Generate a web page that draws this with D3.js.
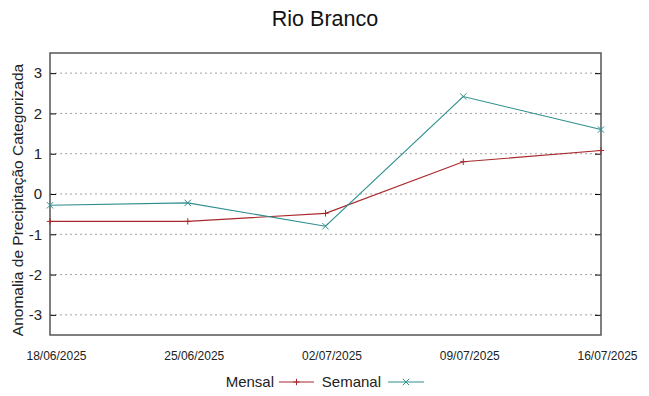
<!DOCTYPE html>
<html>
<head>
<meta charset="utf-8">
<script src="https://cdn.jsdelivr.net/npm/d3@7"></script>
<style>
  body { margin: 0; background: #fff; }
  text { font-family: "Liberation Sans", Arial, sans-serif; }
</style>
</head>
<body>
<script>
const dates = ["18/06/2025", "25/06/2025", "02/07/2025", "09/07/2025", "16/07/2025"];
const mensal = [-0.68, -0.68, -0.48, 0.80, 1.08];
const semanal = [-0.28, -0.22, -0.80, 2.42, 1.60];
const yTicks = [-3, -2, -1, 0, 1, 2, 3];

const parse = d3.timeParse("%d/%m/%Y");
const fmt = d3.timeFormat("%d/%m/%Y");

let svg = d3.select("body").append("svg")
    .attr("width", 649)
    .attr("height", 396);

let plotLeft = 50, plotRight = 601, plotTop = 53, plotBottom = 335;

let xScale = d3.scaleTime()
    .domain([parse(dates[0]), parse(dates[dates.length - 1])])
    .range([plotLeft, plotRight]);
let yScale = d3.scaleLinear().domain([-3.5, 3.5]).range([plotBottom, plotTop]);

// grid
svg.append("g").selectAll("line")
    .data(yTicks)
    .enter()
    .append("line")
    .attr("x1", plotLeft).attr("x2", plotRight)
    .attr("y1", d => yScale(d)).attr("y2", d => yScale(d))
    .attr("stroke", "#a0a0a0")
    .attr("stroke-width", 1)
    .attr("stroke-dasharray", "2,3");

// axes
let yAxis = d3.axisLeft(yScale).tickValues(yTicks).tickSize(-6).tickPadding(8).tickFormat(d => d);
svg.append("g")
    .attr("transform", `translate(${plotLeft},0)`)
    .call(yAxis)
    .call(g => g.select(".domain").remove())
    .call(g => g.selectAll("text").style("font-size", "15px").attr("fill", "#222"));

let yAxisR = d3.axisRight(yScale).tickValues(yTicks).tickSize(-6).tickFormat("");
svg.append("g")
    .attr("transform", `translate(${plotRight},0)`)
    .call(yAxisR)
    .call(g => g.select(".domain").remove());

let xAxis = d3.axisBottom(xScale)
    .tickValues(dates.map(parse))
    .tickSize(0).tickPadding(16)
    .tickFormat(fmt);
svg.append("g")
    .attr("transform", `translate(0,${plotBottom})`)
    .call(xAxis)
    .call(g => g.select(".domain").remove())
    .call(g => g.selectAll("text")
        .attr("dx", 6)
        .style("font-size", "12px").attr("fill", "#222"));

// frame
svg.append("rect")
    .attr("x", plotLeft).attr("y", plotTop)
    .attr("width", plotRight - plotLeft).attr("height", plotBottom - plotTop)
    .attr("fill", "none")
    .attr("stroke", "#555")
    .attr("stroke-width", 1.5);

let series = [
    { name: "Mensal", values: mensal, color: "#a8282c", marker: "plus" },
    { name: "Semanal", values: semanal, color: "#2e8e8e", marker: "cross" }
];

let line = d3.line()
    .x((d, i) => xScale(parse(dates[i])))
    .y(d => yScale(d));

function drawMarker(g, type, x, y, color) {
    let s = 3.2;
    if (type === "plus") {
        g.append("path")
            .attr("d", `M${x - s},${y}H${x + s}M${x},${y - s}V${y + s}`)
            .attr("stroke", color).attr("stroke-width", 1).attr("fill", "none");
    } else {
        g.append("path")
            .attr("d", `M${x - s},${y - s}L${x + s},${y + s}M${x - s},${y + s}L${x + s},${y - s}`)
            .attr("stroke", color).attr("stroke-width", 1).attr("fill", "none");
    }
}

series.forEach(s => {
    svg.append("path")
        .datum(s.values)
        .attr("d", line)
        .attr("fill", "none")
        .attr("stroke", s.color)
        .attr("stroke-width", 1.1);
    let g = svg.append("g");
    s.values.forEach((v, i) => drawMarker(g, s.marker, xScale(parse(dates[i])), yScale(v), s.color));
});

// title
svg.append("text")
    .attr("x", 325)
    .attr("y", 26)
    .attr("text-anchor", "middle")
    .style("font-size", "21.5px")
    .attr("fill", "#111")
    .text("Rio Branco");

// y label
svg.append("text")
    .attr("transform", `translate(23, ${(plotTop + plotBottom) / 2 + 6}) rotate(-90)`)
    .attr("text-anchor", "middle")
    .style("font-size", "15.5px")
    .attr("fill", "#222")
    .text("Anomalia de Precipitação Categorizada");

// legend
let legendItems = [
    { textEnd: 274, x1: 279, x2: 314 },
    { textEnd: 381, x1: 388, x2: 424 }
];
let ly = 382;
series.forEach((s, i) => {
    let li = legendItems[i];
    svg.append("text")
        .attr("x", li.textEnd)
        .attr("y", ly + 5)
        .attr("text-anchor", "end")
        .style("font-size", "15px")
        .attr("fill", "#222")
        .text(s.name);
    svg.append("line")
        .attr("x1", li.x1).attr("x2", li.x2)
        .attr("y1", ly).attr("y2", ly)
        .attr("stroke", s.color).attr("stroke-width", 1.1);
    drawMarker(svg, s.marker, (li.x1 + li.x2) / 2, ly, s.color);
});
</script>
</body>
</html>
